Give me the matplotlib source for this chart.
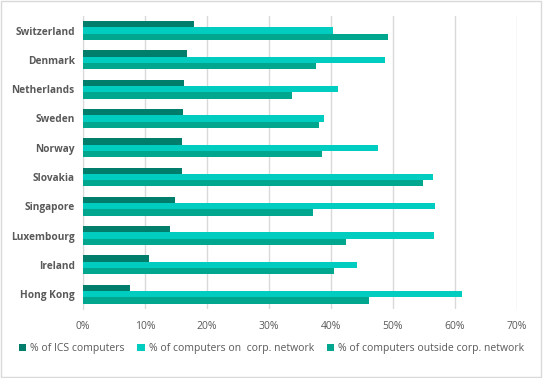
import numpy as np
import matplotlib.pyplot as plt
from matplotlib.ticker import PercentFormatter
from matplotlib.patches import Rectangle

paises = ["Switzerland", "Denmark", "Netherlands", "Sweden", "Norway",
          "Slovakia", "Singapore", "Luxembourg", "Ireland", "Hong Kong"]
ics = [17.9, 16.8, 16.3, 16.2, 16.0, 16.0, 14.9, 14.1, 10.7, 7.6]
corp = [40.3, 48.7, 41.1, 38.9, 47.6, 56.4, 56.7, 56.6, 44.2, 61.2]
fuera = [49.2, 37.6, 33.7, 38.1, 38.5, 54.8, 37.1, 42.4, 40.5, 46.1]

series = ["% of ICS computers", "% of computers on  corp. network",
          "% of computers outside corp. network"]
colores = ["#007D6B", "#00CCBF", "#00A68D"]

plt.rcParams['font.family'] = ['Open Sans', 'DejaVu Sans']
gris = "#595959"

fig = plt.figure(figsize=(5.43, 3.78), dpi=100)
ax = fig.add_axes([0.153, 0.183, 0.799, 0.775])

y = np.arange(len(paises))
h = 0.215
for i, (vals, col, lab) in enumerate(zip([ics, corp, fuera], colores, series)):
    ax.barh(y + (i - 1) * h, vals, height=h, color=col, label=lab, zorder=3)

ax.set_xlim(0, 70)
ax.set_ylim(len(paises) - 0.5, -0.5)
ax.set_yticks(y)
ax.set_yticklabels(paises, fontsize=7.3, color=gris, fontweight='bold')
ax.set_xticks(np.arange(0, 71, 10))
ax.xaxis.set_major_formatter(PercentFormatter(decimals=0))
ax.tick_params(axis='x', labelsize=7.5, labelcolor=gris, length=0, pad=9)
ax.tick_params(axis='y', length=0, pad=6)
ax.grid(axis='x', color="#D9D9D9", linewidth=1, zorder=0)
for s in ["top", "right", "bottom"]:
    ax.spines[s].set_visible(False)
ax.spines["left"].set_color("#D9D9D9")

leg = fig.legend(loc="center", bbox_to_anchor=(0.5, 0.078), ncol=3, frameon=False,
                 fontsize=7.5, handlelength=0.7, handleheight=0.7, handletextpad=0.4,
                 columnspacing=1.2, labelcolor=gris)

fig.patches.append(Rectangle((0.002, 0.003), 0.995, 0.994, transform=fig.transFigure,
                             fill=False, edgecolor="#D9D9D9", linewidth=1))

plt.savefig("out.png", dpi=100)
